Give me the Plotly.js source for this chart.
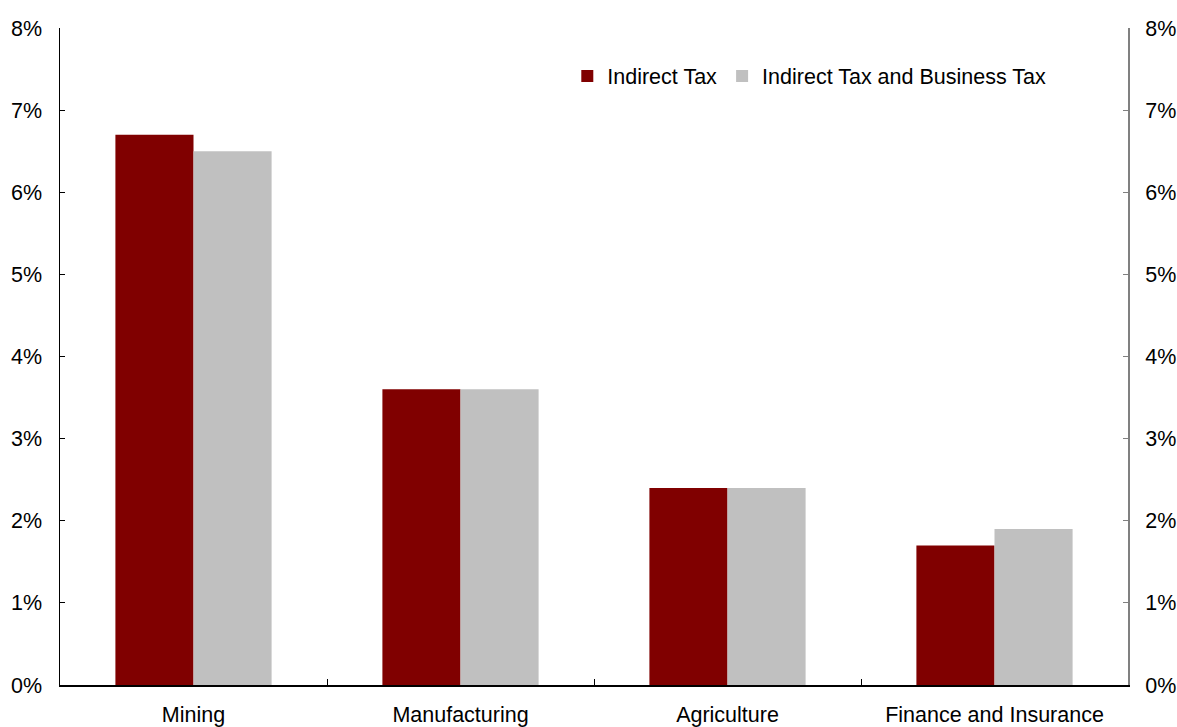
<!DOCTYPE html>
<html><head><meta charset="utf-8">
<script src="https://cdn.plot.ly/plotly-3.0.1.min.js"></script>
<style>html,body{margin:0;padding:0;background:#fff;}#chart{width:1177px;height:727px;}</style>
</head><body><div id="chart"></div>
<script>
const categories = ["Mining", "Manufacturing", "Agriculture", "Finance and Insurance"];
const indirectTax = [0.067, 0.036, 0.024, 0.017];
const indirectAndBusinessTax = [0.065, 0.036, 0.024, 0.019];
const yTickVals = [0, 0.01, 0.02, 0.03, 0.04, 0.05, 0.06, 0.07, 0.08];

const font = {family: "Liberation Sans, Arial, sans-serif", size: 21.5, color: "#000"};
const traces = [
  {type: "bar", name: "Indirect Tax", x: categories, y: indirectTax, marker: {color: "#800000"}, hoverinfo: "y"},
  {type: "bar", name: "Indirect Tax and Business Tax", x: categories, y: indirectAndBusinessTax, marker: {color: "#c0c0c0"}, hoverinfo: "y"},
  {type: "scatter", mode: "lines", x: categories, y: indirectTax, yaxis: "y2", line: {width: 0, color: "rgba(0,0,0,0)"}, opacity: 0, showlegend: false, hoverinfo: "skip"}
];
const layout = {
  width: 1177, height: 727,
  margin: {l: 60, r: 49, t: 28, b: 42},
  paper_bgcolor: "#fff", plot_bgcolor: "#fff",
  font: font,
  barmode: "group", bargap: 0.415, bargroupgap: 0,
  showlegend: true,
  legend: {orientation: "h", x: 0.475, y: 0.927, xanchor: "left", yanchor: "middle", font: font, tracegroupgap: 0, bgcolor: "rgba(0,0,0,0)"},
  xaxis: {type: "category", showline: true, linecolor: "#000", linewidth: 1.5, ticks: "inside", tickson: "boundaries", ticklen: 6, tickcolor: "#000", showgrid: false, zeroline: false, ticklabelstandoff: 10, tickfont: font},
  yaxis: {range: [0, 0.08], tickvals: yTickVals, tickformat: ".0%", showline: true, linecolor: "#000", linewidth: 1.5, ticks: "inside", ticklen: 5, tickcolor: "#000", showgrid: false, zeroline: false, ticklabelstandoff: 12, tickfont: font},
  yaxis2: {range: [0, 0.08], overlaying: "y", side: "right", tickvals: yTickVals, tickformat: ".0%", showline: true, linecolor: "#808080", linewidth: 2, ticks: "inside", ticklen: 5, tickcolor: "#808080", showgrid: false, zeroline: false, ticklabelstandoff: 11, tickfont: font}
};
Plotly.newPlot("chart", traces, layout, {displayModeBar: false, staticPlot: true});
</script></body></html>
